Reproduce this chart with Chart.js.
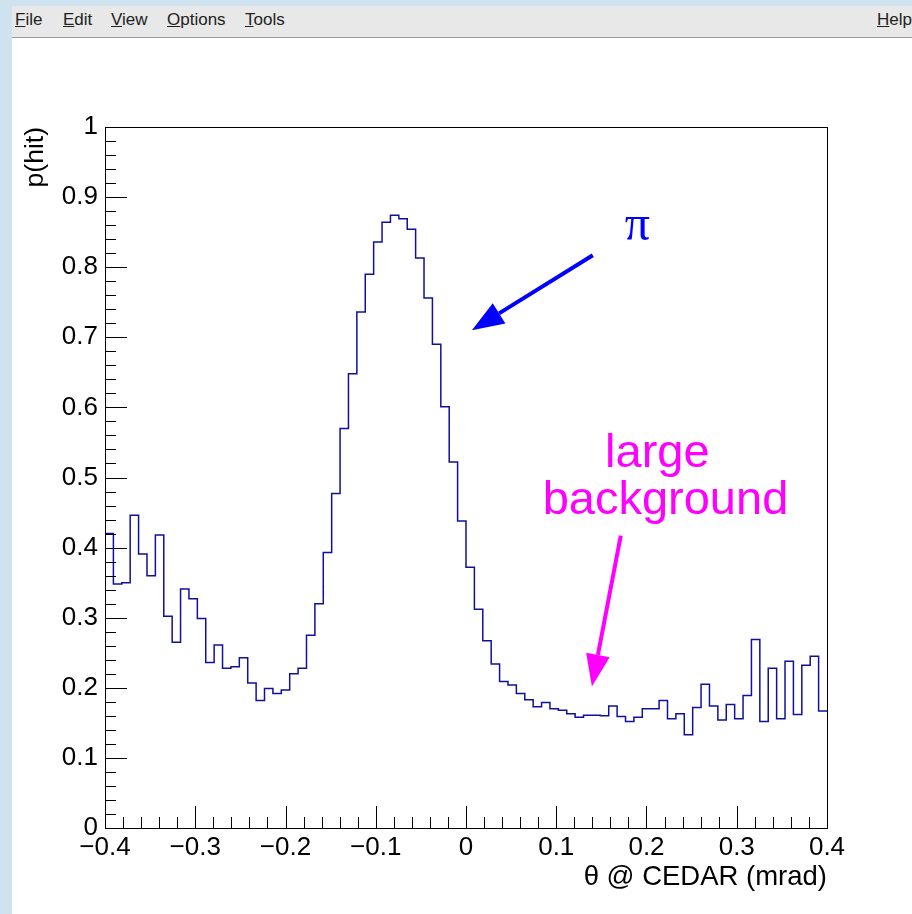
<!DOCTYPE html>
<html>
<head>
<meta charset="utf-8">
<script src="https://cdn.jsdelivr.net/npm/chart.js@4.4.1/dist/chart.umd.min.js"></script>
<style>
  html, body { margin: 0; padding: 0; width: 912px; height: 914px; overflow: hidden; background: #cfe2f0; }
  #menubar { position: absolute; left: 12px; top: 6px; width: 900px; height: 31px; background: #e8e8e8;
             border-bottom: 1px solid #9a9a9a; font: 17px "Liberation Sans", sans-serif; color: #222; }
  #menubar span { position: absolute; top: 4px; }
  #pad { position: absolute; left: 12px; top: 38px; right: 0; bottom: 0; background: #fff; }
  #chart { position: absolute; left: 0; top: 0; }
</style>
</head>
<body>
<div id="menubar">
  <span style="left:3px"><u>F</u>ile</span>
  <span style="left:51px"><u>E</u>dit</span>
  <span style="left:99px"><u>V</u>iew</span>
  <span style="left:155px"><u>O</u>ptions</span>
  <span style="left:233px"><u>T</u>ools</span>
  <span style="left:865px"><u>H</u>elp</span>
</div>
<div id="pad"></div>
<canvas id="chart" width="912" height="914"></canvas>
<script>
// histogram range and bin contents
const xMin = -0.4;
const xMax = 0.4;
const binValues = [
  0.420, 0.348, 0.350, 0.446, 0.391, 0.360, 0.418, 0.302, 0.265, 0.341,
  0.327, 0.299, 0.236, 0.261, 0.228, 0.230, 0.243, 0.207, 0.182, 0.199,
  0.192, 0.197, 0.220, 0.228, 0.275, 0.320, 0.393, 0.477, 0.570, 0.648,
  0.736, 0.790, 0.836, 0.864, 0.874, 0.869, 0.854, 0.813, 0.756, 0.690,
  0.601, 0.522, 0.438, 0.372, 0.312, 0.267, 0.234, 0.209, 0.204, 0.192,
  0.183, 0.173, 0.179, 0.170, 0.168, 0.163, 0.158, 0.161, 0.161, 0.160,
  0.174, 0.159, 0.152, 0.158, 0.170, 0.170, 0.182, 0.156, 0.163, 0.133,
  0.172, 0.205, 0.174, 0.154, 0.176, 0.156, 0.189, 0.269, 0.152, 0.228,
  0.156, 0.238, 0.162, 0.232, 0.245, 0.167
];

const xTickValues = [-0.4, -0.3, -0.2, -0.1, 0, 0.1, 0.2, 0.3, 0.4];
const xTickLabels = ["\u22120.4", "\u22120.3", "\u22120.2", "\u22120.1", "0", "0.1", "0.2", "0.3", "0.4"];
const yTickValues = [0, 0.1, 0.2, 0.3, 0.4, 0.5, 0.6, 0.7, 0.8, 0.9, 1];
const yTickLabels = ["0", "0.1", "0.2", "0.3", "0.4", "0.5", "0.6", "0.7", "0.8", "0.9", "1"];

// annotations, in data units
const piNote = { text: "\u03c0", x: 0.190, y: 0.857 };
const bgNote = [
  { text: "large", x: 0.212, y: 0.533 },
  { text: "background", x: 0.221, y: 0.466 }
];
const piArrow = { from: [0.1405, 0.817], to: [0.0065, 0.710] };
const bgArrow = { from: [0.1715, 0.417], to: [0.1395, 0.202] };

const nBins = binValues.length;
const binWidth = (xMax - xMin) / nBins;
// one point per bin low edge, plus the closing high edge
const points = binValues.map((v, i) => ({ x: xMin + i * binWidth, y: v }));
points.push({ x: xMax, y: binValues[nBins - 1] });

const FONT = '"Liberation Sans", Arial, sans-serif';

function drawArrow(ctx, x0, y0, x1, y1, color) {
  const ang = Math.atan2(y1 - y0, x1 - x0);
  const headLen = 32, headHalf = 12;
  const bx = x1 - headLen * Math.cos(ang), by = y1 - headLen * Math.sin(ang);
  ctx.strokeStyle = color;
  ctx.fillStyle = color;
  ctx.lineWidth = 4;
  ctx.beginPath();
  ctx.moveTo(x0, y0);
  ctx.lineTo(bx, by);
  ctx.stroke();
  ctx.beginPath();
  ctx.moveTo(x1, y1);
  ctx.lineTo(bx + headHalf * Math.sin(ang), by - headHalf * Math.cos(ang));
  ctx.lineTo(bx - headHalf * Math.sin(ang), by + headHalf * Math.cos(ang));
  ctx.closePath();
  ctx.fill();
}

// ROOT style frame with ticks pointing inwards, plus the text/arrow annotations
const rootFrame = {
  id: "rootFrame",
  afterDraw(chart) {
    const { ctx, chartArea: a, scales: { x, y } } = chart;
    ctx.save();
    ctx.strokeStyle = "#000";
    ctx.lineWidth = 1;
    ctx.strokeRect(Math.round(a.left) + 0.5, Math.round(a.top) + 0.5,
                   Math.round(a.right - a.left), Math.round(a.bottom - a.top));
    ctx.beginPath();
    for (let k = 0; k <= 40; k++) {
      const px = Math.round(x.getPixelForValue(xMin + k * 0.02)) + 0.5;
      const len = k % 5 === 0 ? 22 : 11;
      ctx.moveTo(px, a.bottom);
      ctx.lineTo(px, a.bottom - len);
    }
    for (let k = 0; k <= 50; k++) {
      const py = Math.round(y.getPixelForValue(k * 0.02)) + 0.5;
      const len = k % 5 === 0 ? 22 : 11;
      ctx.moveTo(a.left, py);
      ctx.lineTo(a.left + len, py);
    }
    ctx.stroke();

    ctx.textAlign = "center";
    ctx.textBaseline = "middle";
    ctx.fillStyle = "#0000ff";
    ctx.font = '50px "Liberation Serif", serif';
    ctx.fillText(piNote.text, x.getPixelForValue(piNote.x), y.getPixelForValue(piNote.y));
    ctx.fillStyle = "#ff00ff";
    ctx.font = "47px " + FONT;
    bgNote.forEach(n => ctx.fillText(n.text, x.getPixelForValue(n.x), y.getPixelForValue(n.y)));

    drawArrow(ctx, x.getPixelForValue(piArrow.from[0]), y.getPixelForValue(piArrow.from[1]),
              x.getPixelForValue(piArrow.to[0]), y.getPixelForValue(piArrow.to[1]), "#0000ff");
    drawArrow(ctx, x.getPixelForValue(bgArrow.from[0]), y.getPixelForValue(bgArrow.from[1]),
              x.getPixelForValue(bgArrow.to[0]), y.getPixelForValue(bgArrow.to[1]), "#ff00ff");
    ctx.restore();
  }
};

new Chart(document.getElementById("chart").getContext("2d"), {
  type: "line",
  data: {
    datasets: [{
      data: points,
      stepped: "before",
      borderColor: "#10109c",
      borderWidth: 1.5,
      pointRadius: 0,
      fill: false
    }]
  },
  options: {
    responsive: false,
    animation: false,
    layout: { padding: { top: 127, right: 85, left: 0, bottom: 0 } },
    plugins: { legend: { display: false }, tooltip: { enabled: false } },
    scales: {
      x: {
        type: "linear",
        min: xMin,
        max: xMax,
        afterBuildTicks: s => { s.ticks = xTickValues.map(v => ({ value: v })); },
        afterFit: s => { s.height = 86; },
        grid: { display: false, drawTicks: false },
        border: { display: false },
        ticks: {
          autoSkip: false, maxRotation: 0, padding: 4, color: "#000",
          font: { family: FONT, size: 26 },
          callback: (v, i) => xTickLabels[i]
        },
        title: {
          display: true, text: "\u03b8 @ CEDAR (mrad)", align: "end", color: "#000",
          font: { family: FONT, size: 27.5 }, padding: { top: 0, bottom: 20 }
        }
      },
      y: {
        type: "linear",
        min: 0,
        max: 1,
        afterBuildTicks: s => { s.ticks = yTickValues.map(v => ({ value: v })); },
        afterFit: s => { s.width = 105; },
        grid: { display: false, drawTicks: false },
        border: { display: false },
        ticks: {
          autoSkip: false, padding: 7, color: "#000",
          font: { family: FONT, size: 26 },
          callback: (v, i) => yTickLabels[i]
        },
        title: {
          display: true, text: "p(hit)", align: "end", color: "#000",
          font: { family: FONT, size: 26.5 }, padding: { top: 20, bottom: 0 }
        }
      }
    }
  },
  plugins: [rootFrame]
});
</script>
</body>
</html>
